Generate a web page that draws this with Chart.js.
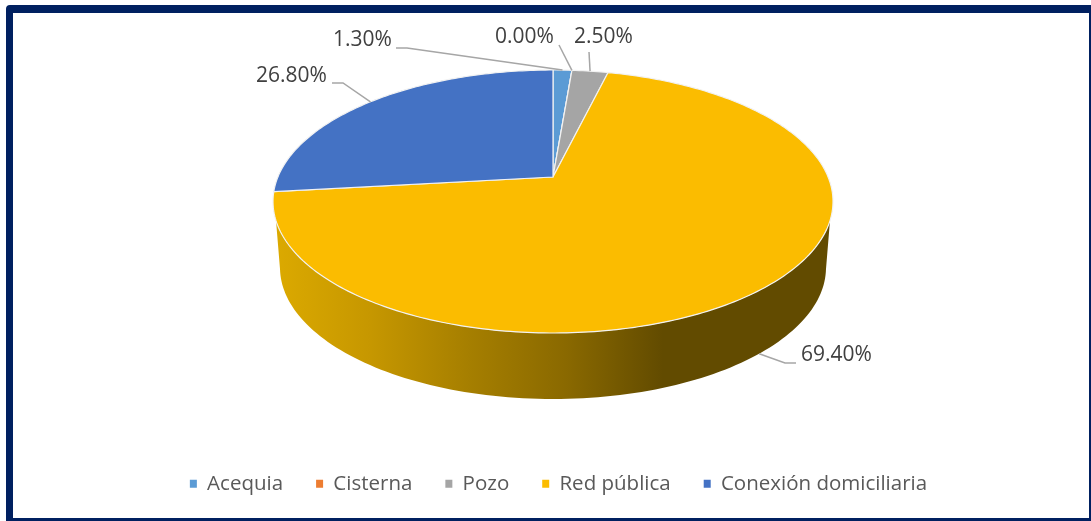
<!DOCTYPE html>
<html>
<head>
<meta charset="utf-8">
<script src="https://cdn.jsdelivr.net/npm/chart.js@4"></script>
<style>
    html, body { margin: 0; padding: 0; background: #fff; overflow: hidden; }
    .frame {
        position: absolute; left: 6px; top: 5px; width: 1085px; height: 516px; box-sizing: border-box;
        border: solid #002060; border-width: 8px 2px 3px 7px; border-radius: 4px 0 0 0;
    }
    canvas { position: absolute; left: 0; top: 0; }
</style>
</head>
<body>
<div class="frame"></div>
<canvas id="chart" width="1091" height="521"></canvas>
<script>
const categories = ["Acequia", "Cisterna", "Pozo", "Red pública", "Conexión domiciliaria"];
const values = [1.3, 0, 2.5, 69.4, 26.8];
const colors = ["#5B9BD5", "#ED7D31", "#A5A5A5", "#FBBC00", "#4472C4"];

// the slices are flat on the canvas, this is how they get tilted back
const tilt = {shiftX: -5.5, apexDrop: 107, k: 275.1, a: 126.93, c: -0.1863, depth: 66, wallScale: 0.975, wallTop: 0.33, wallBottom: 0.2};

// label box + leader line for each slice, in order of categories
const labelSpots = [
    {x: 333, y: 40, line: [[396, 48], [407, 48]]},
    {x: 495, y: 37, line: [[559, 45]]},
    {x: 574, y: 37, line: [[589, 52]]},
    {x: 801, y: 355, line: [[796, 363], [785, 363]], onWall: true},
    {x: 256, y: 76, line: [[332, 83], [343, 83]]}
];

const project = (chart, arc, angle, onWall) => {
    const u = Math.cos(angle);
    const v = Math.sin(angle);
    const w = 1 + tilt.c * v;
    const cx = arc.x + tilt.shiftX;
    let x = tilt.k * u / w;
    let y = chart.chartArea.top + tilt.apexDrop + tilt.a * v / w;
    if (onWall) {
        x *= tilt.wallScale;
        y += tilt.depth;
    }
    return {x: cx + x, y: y};
};

const drawWall = (ctx, chart, arc) => {
    const cx = arc.x + tilt.shiftX;
    const grad = ctx.createLinearGradient(cx - 280, 0, cx + 110, 0);
    grad.addColorStop(0, "#DCAA00");
    grad.addColorStop(0.25, "#C69700");
    grad.addColorStop(0.5, "#A67F00");
    grad.addColorStop(0.75, "#8A6900");
    grad.addColorStop(1, "#624B00");
    ctx.beginPath();
    for (let i = 0; i <= 120; i++) {
        const angle = Math.PI - tilt.wallBottom + (2 * tilt.wallBottom - Math.PI) * i / 120;
        const p = project(chart, arc, angle, true);
        if (i == 0) ctx.moveTo(p.x, p.y); else ctx.lineTo(p.x, p.y);
    }
    for (let i = 120; i >= 0; i--) {
        const angle = Math.PI - tilt.wallTop + (2 * tilt.wallTop - Math.PI) * i / 120;
        const p = project(chart, arc, angle, false);
        ctx.lineTo(p.x, p.y);
    }
    ctx.closePath();
    ctx.fillStyle = grad;
    ctx.fill();
};

const drawSlice = (ctx, chart, arc, color) => {
    const apex = {x: arc.x + tilt.shiftX, y: chart.chartArea.top + tilt.apexDrop};
    ctx.beginPath();
    ctx.moveTo(apex.x, apex.y);
    const steps = Math.max(2, Math.ceil((arc.endAngle - arc.startAngle) * 60));
    for (let i = 0; i <= steps; i++) {
        const p = project(chart, arc, arc.startAngle + (arc.endAngle - arc.startAngle) * i / steps, false);
        ctx.lineTo(p.x, p.y);
    }
    ctx.closePath();
    ctx.fillStyle = color;
    ctx.fill();
    ctx.strokeStyle = "#F2F2F2";
    ctx.lineWidth = 1.2;
    ctx.stroke();
};

const drawLabel = (ctx, chart, arc, spot, value) => {
    const mid = (arc.startAngle + arc.endAngle) / 2;
    const end = project(chart, arc, mid, spot.onWall);
    ctx.beginPath();
    ctx.moveTo(spot.line[0][0], spot.line[0][1]);
    for (let pt of spot.line) ctx.lineTo(pt[0], pt[1]);
    ctx.lineTo(end.x, end.y);
    ctx.strokeStyle = "#A6A6A6";
    ctx.lineWidth = 1.5;
    ctx.stroke();

    ctx.fillStyle = "#404040";
    ctx.font = "21px 'Open Sans'";
    ctx.textAlign = "left";
    ctx.textBaseline = "middle";
    ctx.fillText(value.toFixed(2) + "%", spot.x, spot.y);
};

const tiltedPie = {
    id: "tiltedPie",
    beforeDatasetsDraw(chart) {
        const ctx = chart.ctx;
        const arcs = chart.getDatasetMeta(0).data;
        ctx.save();
        drawWall(ctx, chart, arcs[0]);
        arcs.forEach((arc, i) => drawSlice(ctx, chart, arc, colors[i]));
        arcs.forEach((arc, i) => drawLabel(ctx, chart, arc, labelSpots[i], values[i]));
        ctx.restore();
        return false;
    }
};

new Chart(document.getElementById("chart"), {
    type: "pie",
    data: {
        labels: categories,
        datasets: [{data: values, backgroundColor: colors, borderWidth: 0}]
    },
    options: {
        responsive: false,
        animation: false,
        layout: {padding: {left: 26, top: 70, right: 0, bottom: 17}},
        plugins: {
            tooltip: {enabled: false},
            legend: {
                position: "bottom",
                labels: {
                    boxWidth: 7,
                    boxHeight: 8,
                    padding: 33,
                    color: "#595959",
                    font: {family: "'Open Sans'", size: 20.5}
                }
            }
        }
    },
    plugins: [tiltedPie]
});
</script>
</body>
</html>
